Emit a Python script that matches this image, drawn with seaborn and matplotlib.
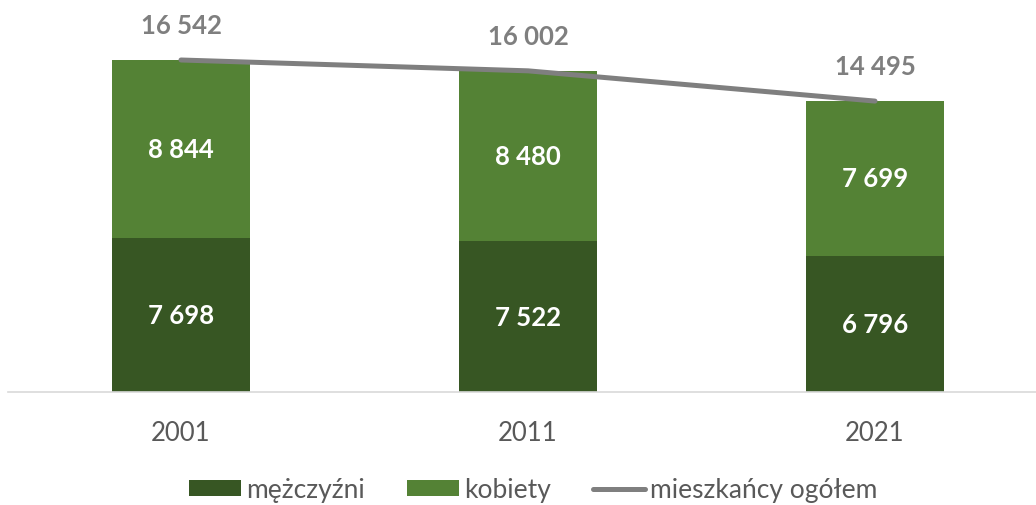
import matplotlib
matplotlib.use("Agg")
import matplotlib.pyplot as plt
import seaborn as sns
import pandas as pd
from matplotlib.patches import Patch
from matplotlib.lines import Line2D

years = ["2001", "2011", "2021"]
men = [7698, 7522, 6796]
women = [8844, 8480, 7699]
total = [16542, 16002, 14495]

series_names = ["mężczyźni", "kobiety", "mieszkańcy ogółem"]
c_men = "#375623"
c_women = "#548235"
c_total = "#7f7f7f"

sns.set_theme(style="white")
plt.rcParams["font.family"] = ["Lato", "DejaVu Sans"]

def fmt(v):
    return f"{v:,}".replace(",", " ")

W, H = 1036, 506
fig = plt.figure(figsize=(W / 100, H / 100), dpi=100)
left_px, base_px, top_px = 7.5, 393, 5
ax = fig.add_axes([left_px / W, (H - base_px) / H, (W - left_px) / W, (base_px - top_px) / H])

df = pd.DataFrame({"rok": years, "men": men, "women": women, "total": [m + w for m, w in zip(men, women)]})

# stacked: full height in light green, men drawn over it
sns.barplot(data=df, x="rok", y="total", color=c_women, width=0.4, saturation=1, ax=ax, linewidth=0)
sns.barplot(data=df, x="rok", y="men", color=c_men, width=0.4, saturation=1, ax=ax, linewidth=0)

sns.lineplot(x=[0, 1, 2], y=total, color=c_total, linewidth=3.6, ax=ax, solid_capstyle="round")

px_per_unit = (base_px - 61) / total[0]
ymax = (base_px - top_px) / px_per_unit
ax.set_ylim(0, ymax)
span = (W - left_px) / 347.0
ax.set_xlim(-0.5, -0.5 + span)

for i in range(len(years)):
    ax.text(i, men[i] / 2, fmt(men[i]), ha="center", va="center", color="white",
            fontsize=18.5, fontweight="bold")
    ax.text(i, men[i] + women[i] / 2, fmt(women[i]), ha="center", va="center", color="white",
            fontsize=18.5, fontweight="bold")
    ax.annotate(fmt(total[i]), xy=(i, total[i]), xytext=(0, 25), textcoords="offset points",
                ha="center", va="center", color=c_total, fontsize=18.5, fontweight="bold")

ax.set_xlabel("")
ax.set_ylabel("")
ax.set_yticks([])
ax.tick_params(axis="x", length=0, pad=20, labelsize=18.5, labelcolor="#595959")
for s in ["top", "left", "right"]:
    ax.spines[s].set_visible(False)
ax.spines["bottom"].set_color("#d9d9d9")
ax.spines["bottom"].set_linewidth(1.2)

handles = [Patch(facecolor=c_men, edgecolor="none"),
           Patch(facecolor=c_women, edgecolor="none"),
           Line2D([0], [0], color=c_total, linewidth=3.6, solid_capstyle="round")]
fig.legend(handles, series_names, loc="center", bbox_to_anchor=(533 / W, 1 - 491 / H), ncol=3,
           frameon=False, fontsize=19, handlelength=1.97, handleheight=0.57, handletextpad=0.19,
           columnspacing=1.6, labelcolor="#595959")

fig.savefig("out.png", dpi=100)
